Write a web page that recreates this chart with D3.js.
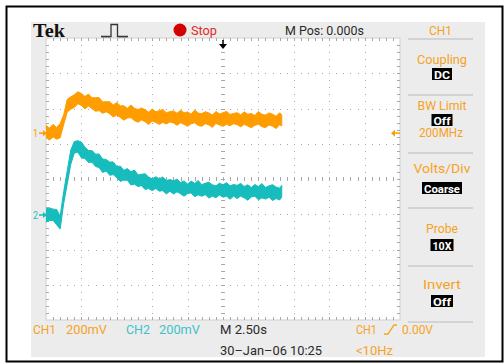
<!DOCTYPE html>
<html>
<head>
<meta charset="utf-8">
<script src="https://cdn.jsdelivr.net/npm/d3@7"></script>
<style>
  body { margin: 0; background: #fff; }
  svg { display: block; }
</style>
</head>
<body>
<div id="scope"></div>
<script>
// sample times in seconds (record ends a little after 4 s)
const times = [-12.5,-12.25,-12,-11.75,-11.5,-11.25,-11,-10.75,-10.5,-10.25,-10,-9.75,-9.5,-9.25,-9,-8.75,-8.5,-8.25,-8,-7.75,-7.5,-7.25,-7,-6.75,-6.5,-6.25,-6,-5.75,-5.5,-5.25,-5,-4.75,-4.5,-4.25,-4,-3.75,-3.5,-3.25,-3,-2.75,-2.5,-2.25,-2,-1.75,-1.5,-1.25,-1,-0.75,-0.5,-0.25,0,0.25,0.5,0.75,1,1.25,1.5,1.75,2,2.25,2.5,2.75,3,3.25,3.5,3.75,4,4.15];
// noise envelope of each trace, mV above its ground marker
const ch1Hi = [43,29,50,32,55,104,192,206,218,235,225,208,222,201,201,202,177,179,178,160,174,155,155,141,160,141,134,143,133,119,137,122,127,135,116,122,126,113,130,116,120,108,131,114,111,122,115,103,123,109,116,124,106,112,116,104,121,107,112,100,123,107,103,115,108,96,116,103];
const ch1Lo = [-25,-39,-21,-34,-26,49,120,136,146,167,157,138,154,139,124,128,113,121,110,92,103,89,74,86,88,71,62,75,65,49,69,60,50,61,52,64,58,45,59,50,39,53,59,44,39,54,47,33,55,47,39,50,42,54,48,36,50,41,31,45,51,37,31,47,40,26,48,41];
const ch2Hi = [34,40,33,31,-6,132,251,368,417,421,414,385,365,366,345,346,317,315,300,301,275,277,253,263,245,255,227,231,234,215,205,217,205,215,195,201,194,203,184,193,176,192,179,195,172,180,186,171,165,180,171,183,165,173,168,179,161,171,156,173,161,178,156,165,172,158,152,168];
const ch2Lo = [-41,-32,-31,-56,-80,65,176,287,351,356,324,320,298,299,275,269,241,249,225,229,211,190,199,196,170,174,161,166,144,150,138,150,135,138,119,135,119,131,120,106,122,125,104,114,106,115,96,106,98,113,101,106,89,107,93,107,97,84,102,106,86,97,90,100,82,93,85,101];

const timeDivs = [-12.5,-10,-7.5,-5,-2.5,0,2.5,5,7.5,10,12.5];
const voltDivs = [-4,-3,-2,-1,0,1,2,3,4];
const mvPerDiv = 200;
const ch1Ground = 1.3;   // divisions from centre
const ch2Ground = -1.02;
const ch1Trigger = 0;    // mV

const menuTitles = ['Coupling', 'BW Limit', 'Volts/Div', 'Probe', 'Invert'];
const menuValues = ['DC', 'Off', 'Coarse', '10X', 'Off'];
const menuExtra = ['', '200MHz', '', '', ''];
const bottomLeft = [['CH1', '200mV'], ['CH2', '200mV']];

const W = 504, H = 364;
const orange = '#ff9c00', cyan = '#17bcbc';
const orangeText = '#f7a21e', cyanText = '#3dc3c9';
const font = 'Roboto, "Liberation Sans", sans-serif';

const svg = d3.select('#scope').append('svg')
  .attr('width', W)
  .attr('height', H);

svg.append('rect').attr('width', W).attr('height', H).attr('fill', '#fff');
svg.append('rect')
  .attr('x', 6.5).attr('y', 6.5).attr('width', 496).attr('height', 355)
  .attr('fill', 'none').attr('stroke', '#000').attr('stroke-width', 2);
svg.append('rect')
  .attr('x', 31).attr('y', 22).attr('width', 454).attr('height', 335)
  .attr('fill', '#ececec');

const x = d3.scaleLinear().domain([-12.5, 12.5]).range([46, 400]);
const y = d3.scaleLinear().domain([-4, 4]).range([320, 38]);

// graticule
const grid = svg.append('g');
grid.append('rect')
  .attr('x', x(-12.5)).attr('y', y(4))
  .attr('width', x(12.5) - x(-12.5)).attr('height', y(-4) - y(4))
  .attr('fill', '#fff').attr('stroke', '#cfcfcf').attr('stroke-width', 1);

const yMinor = d3.range(1, 40).map(k => -4 + k / 5);
const xMinor = d3.range(1, 50).map(k => -12.5 + k * 0.5);
const dotColor = '#a8a8a8';

timeDivs.slice(1, -1).forEach(t => {
  if (t === 0) {
    grid.selectAll(null).data(yMinor).enter().append('line')
      .attr('x1', x(t) - 2).attr('x2', x(t) + 2)
      .attr('y1', d => Math.round(y(d)) + 0.5).attr('y2', d => Math.round(y(d)) + 0.5)
      .attr('stroke', dotColor);
  } else {
    grid.selectAll(null).data(yMinor).enter().append('rect')
      .attr('x', Math.round(x(t))).attr('y', d => Math.round(y(d)))
      .attr('width', 1).attr('height', 1).attr('fill', dotColor);
  }
});
voltDivs.slice(1, -1).forEach(v => {
  if (v === 0) {
    grid.selectAll(null).data(xMinor).enter().append('line')
      .attr('y1', y(v) - 2).attr('y2', y(v) + 2)
      .attr('x1', d => Math.round(x(d)) + 0.5).attr('x2', d => Math.round(x(d)) + 0.5)
      .attr('stroke', dotColor);
  } else {
    grid.selectAll(null).data(xMinor).enter().append('rect')
      .attr('y', Math.round(y(v))).attr('x', d => Math.round(x(d)))
      .attr('width', 1).attr('height', 1).attr('fill', dotColor);
  }
});
// edge ticks
[[y(4), 3], [y(-4), -3]].forEach(([yy, len]) => {
  grid.selectAll(null).data(xMinor).enter().append('line')
    .attr('x1', d => Math.round(x(d)) + 0.5).attr('x2', d => Math.round(x(d)) + 0.5)
    .attr('y1', yy).attr('y2', yy + len)
    .attr('stroke', dotColor);
});
[[x(-12.5), 3], [x(12.5), -3]].forEach(([xx, len]) => {
  grid.selectAll(null).data(yMinor).enter().append('line')
    .attr('y1', d => Math.round(y(d)) + 0.5).attr('y2', d => Math.round(y(d)) + 0.5)
    .attr('x1', xx).attr('x2', xx + len)
    .attr('stroke', dotColor);
});

// traces
svg.append('clipPath').attr('id', 'plotClip')
  .append('rect')
  .attr('x', x(-12.5)).attr('y', y(4))
  .attr('width', x(12.5) - x(-12.5)).attr('height', y(-4) - y(4));

function trace(hi, lo, ground, color) {
  const pts = times.map((t, i) => ({ t: t, hi: hi[i], lo: lo[i] }));
  const area = d3.area()
    .x(d => x(d.t))
    .y0(d => y(ground + d.lo / mvPerDiv))
    .y1(d => y(ground + d.hi / mvPerDiv));
  svg.append('path')
    .datum(pts)
    .attr('clip-path', 'url(#plotClip)')
    .attr('d', area)
    .attr('fill', color)
    .attr('stroke', color)
    .attr('stroke-width', 1)
    .attr('stroke-linejoin', 'miter');
}
trace(ch1Hi, ch1Lo, ch1Ground, orange);
trace(ch2Hi, ch2Lo, ch2Ground, cyan);

// text helper
function label(str, x0, y0, size, width, color, weight) {
  const t = svg.append('text')
    .attr('x', x0).attr('y', y0)
    .attr('font-family', font)
    .attr('font-size', size)
    .attr('font-weight', weight || 'normal')
    .attr('fill', color)
    .text(str);
  if (width) t.attr('textLength', width).attr('lengthAdjust', 'spacingAndGlyphs');
  return t;
}

// ground markers on the left
[[ch1Ground, '1', orange], [ch2Ground, '2', cyan]].forEach(([g, n, c]) => {
  const yy = y(g);
  label(n, 33, yy + 4, 11, 5, c);
  svg.append('line').attr('x1', 39).attr('x2', 44).attr('y1', yy).attr('y2', yy)
    .attr('stroke', c).attr('stroke-width', 1.5);
  svg.append('path')
    .attr('d', `M47,${yy}L43,${yy - 3}L43,${yy + 3}Z`)
    .attr('fill', c);
});

// trigger level arrow on the right
const trigY = y(ch1Ground + ch1Trigger / mvPerDiv);
svg.append('line').attr('x1', 394).attr('x2', 400).attr('y1', trigY).attr('y2', trigY)
  .attr('stroke', orange).attr('stroke-width', 1.5);
svg.append('path')
  .attr('d', `M391,${trigY}L395,${trigY - 3.5}L395,${trigY + 3.5}Z`)
  .attr('fill', orange);

// trigger position arrow on top
const tx = x(0);
svg.append('line').attr('x1', tx).attr('x2', tx).attr('y1', 40).attr('y2', 45)
  .attr('stroke', '#000').attr('stroke-width', 1.5);
svg.append('path')
  .attr('d', `M${tx - 4},44L${tx + 4},44L${tx},49Z`)
  .attr('fill', '#000');

// header
svg.append('text')
  .attr('x', 33).attr('y', 37)
  .attr('font-family', '"Liberation Serif", "DejaVu Serif", serif')
  .attr('font-weight', 'bold').attr('font-size', 18)
  .attr('textLength', 32).attr('lengthAdjust', 'spacingAndGlyphs')
  .attr('fill', '#111').text('Tek');
svg.append('path')
  .attr('d', 'M101,36.5H111V24.5H117.5V36.5H128')
  .attr('fill', 'none').attr('stroke', '#333').attr('stroke-width', 1.3);
svg.append('path')
  .attr('d', 'M103,36.5v1.5M106,36.5v1.5M109,36.5v1.5M120,36.5v1.5M123,36.5v1.5M126,36.5v1.5')
  .attr('stroke', '#666').attr('stroke-width', 1);
svg.append('circle').attr('cx', 180).attr('cy', 30).attr('r', 6.5).attr('fill', '#d40000');
label('Stop', 191, 35, 13, 26, '#e02828');
label('M Pos: 0.000s', 285, 35, 13, 79, '#2a2a2a');
label('CH1', 429, 35, 13, 23, orangeText);

// right menu
const sepColor = '#b9b9b9';
const sepYs = [39, 95, 153, 208, 266, 322];
sepYs.forEach(sy => {
  svg.append('line').attr('x1', 408).attr('x2', 473).attr('y1', sy).attr('y2', sy)
    .attr('stroke', sepColor).attr('stroke-width', 1.2);
});
const titleY = [64, 110, 173, 233, 289];
const titleW = [50, 49, 57, 32, 38];
const boxY = [68, 114, 182, 239, 295];
const boxW = [20, 21, 40, 23, 22];
const menuCx = 442;
menuTitles.forEach((t, i) => {
  label(t, menuCx - titleW[i] / 2, titleY[i], 13, titleW[i], orangeText);
  svg.append('rect')
    .attr('x', menuCx - boxW[i] / 2).attr('y', boxY[i])
    .attr('width', boxW[i]).attr('height', 12)
    .attr('fill', '#000');
  const vw = boxW[i] - 4;
  label(menuValues[i], menuCx - vw / 2, boxY[i] + 10.5, 11, vw, '#fff', 'bold');
  if (menuExtra[i]) label(menuExtra[i], 419, boxY[i] + 23, 12, 44, orangeText);
});

// bottom status
label(bottomLeft[0][0], 33, 334, 13, 23, orangeText);
label(bottomLeft[0][1], 66, 334, 13, 41, orangeText);
label(bottomLeft[1][0], 126, 334, 13, 24, cyanText);
label(bottomLeft[1][1], 159, 334, 13, 41, cyanText);
label('M 2.50s', 220, 334, 13, 47, '#2a2a2a');
label('30\u2013Jan\u201306 10:25', 220, 355, 13, 102, '#2a2a2a');
label('CH1', 356, 334, 13, 21, orangeText);
svg.append('path')
  .attr('d', 'M384,334H388L394,325H397')
  .attr('fill', 'none').attr('stroke', orangeText).attr('stroke-width', 1.3);
label('0.00V', 402, 334, 13, 31, orangeText);
label('<10Hz', 356, 355, 13, 37, orangeText);
</script>
</body>
</html>
